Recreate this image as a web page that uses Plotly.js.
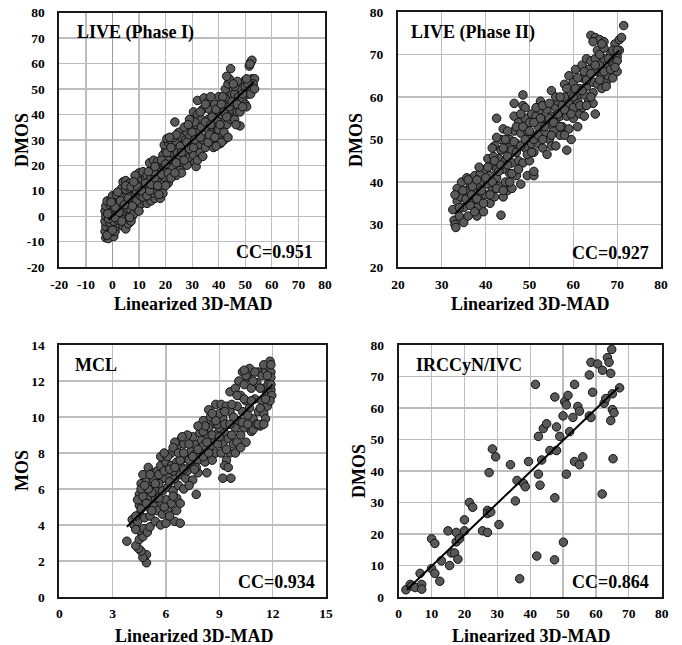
<!DOCTYPE html>
<html><head><meta charset="utf-8">
<script src="https://cdn.plot.ly/plotly-3.0.1.min.js"></script>
<style>html,body{margin:0;padding:0;background:#fff}</style>
</head><body><div id="chart" style="width:682px;height:645px"></div>
<script>
// ---- LIVE (Phase I) ----
const live1Points = [
[-2.5,-8.5],[-1.5,-8.8],[0.5,-8],[-2.8,-6],[-1,-6.5],[1,-6],[-2.5,-4],[-0.5,-4.5],[1.5,-4],[2.5,-3],[-2.8,-2],[-1,-2.5],[0.5,-2],[2,-1.5],[-2.5,0],[-1,0.5],[0.5,0],[2,0.5],[3,-1],[-2.8,2],[-1.5,2.5],[0,2],[1.5,2.5],[3,2],[-2.5,4],[-1,4.5],[0.5,4],[2,4.5],[-2,6],[-0.5,6.5],[1,6],[2.5,7],[0,8],[1.5,8.5],[-1.5,-1],[3.5,0.5],
[4,-4],[5,-5],[6,-3],[4.5,-1],[6,-1],[7.5,0],[4,2],[5.5,3],[7,2.5],[8,1],[3.5,5],[5,6],[6.5,5],[8,5],[4,8],[5.5,9],[7,8],[8.5,8],[3.5,11],[5,10.5],[6.5,11],[8,11],[4,13.5],[5,14],[6.5,13],[3,3],[7,-2],
[9,3],[10,4],[11,5],[12,6],[13,5],[9,6],[10.5,8],[12,9],[13.5,8],[9,10],[10.5,11],[12,12],[13.5,11],[9.5,13.5],[11,15],[12.5,15],[10,17],[11.5,17.5],[13,16],[14,14],[8.5,16],
[14.5,6],[16,7],[18,7],[15,9],[16.5,10],[18,11],[19,9],[15,12],[16.5,13.5],[18,14],[19.5,13],[14.5,15],[16,17],[17.5,17],[19,16],[20,15],[15,19],[16.5,20],[18,19],[19.5,19],[14,21],[15.5,22],[17,21.5],[19,21],[20.5,18],[21,13],[20,12],
[19,24],[20,26],[19.5,28],[21,29],[20.5,30.5],[22,30],[22,24],[23,22],[21.5,20],[23,27],[24,29.5],[24.5,25],[25,21],[25.5,18],[24,16],[26,17],[23.5,37],[25,33],[26,31],[26.5,28],[25.5,23],[22.5,19],[21,22],
[27,25],[27.5,30],[28,33],[28.5,27],[29,23],[29.5,35],[30,29],[30.5,24],[31,21],[31.5,19.5],[32,22],[30,38],[30.5,41],[31,32],[31.5,36],[32,40],[32,45.5],[29,31],[28,20],[32.5,28],[32.5,33],[27,35],
[33,25],[34,23.5],[34,30],[34.5,35],[33.5,38],[34,42],[34.5,46.5],[35,27],[35.5,31],[36,34],[36,38],[36.5,42],[36,45],[37,29],[37.5,33],[38,36],[38,40],[38.5,44],[39,30],[39.5,34],[39.5,38],[40,42],[40,47],[38,27],[37,47],
[40.5,28.5],[41,31],[42,30],[41.5,35],[42.5,38],[43,36],[41,40],[42,43],[43,44],[44,40],[44.5,38],[45,42],[43,47],[44,46],[45.5,45],[41.5,47],[42.5,50],[43.5,52],[44,54],[43,55],[44.5,58],[45,48],[46,48],[46.5,44],[46,38],[47,41],
[48,35.5],[47.5,47],[48,44],[49,46],[49.5,53],[50,44],[50.5,43],[51,48],[51.5,59],[52,60.5],[52.5,61.3],[51.8,59.8],[52.5,54],[53.5,54],[53,52],[52,48],[53.5,50],[48.5,50],[50,51],
[-2,-7.5],[0,-5.5],[-1.8,1],[1,-0.5],[2.5,1.5],[1,3.5],[3.5,-2],[-0.5,5.5],[2,9.5],[3,6],[4.5,4.5],[6,7],[7.5,4],[6.5,-0.5],[5,12],[7,11.5],[9.5,11.5],[8,13.5],[10,2],[11.5,7.5],[11,10],[12.5,13],[13,8],[14,10],[14.5,12.5],[16,15],[17,12],[17.5,8.5],[18.5,16.5],[15.5,17.5],[13.5,17.5],[16,19.5],[18.5,22],[20,20.5],[21,17],[22,15],[20.5,25],[22,27],[23,31],[24,32],[21.5,31],[25.5,27.5],[24,21],[23.5,17],[26,25],[27,22],[28,29],[29,26.5],[30,33],[30.5,27],[31,37],[29,38],[28.5,36],[31,30],[33,31],[33.5,35],[33,41],[35,44],[35,37],[36,29],[37,36],[37.5,39],[36.5,32],[38.5,31],[39,42],[40,34],[40.5,36],[41,44],[42,41],[43,39],[44,43],[45,45],[46,51],[47,53],[45.5,52],[47,44],[49,48],[48,41],[46.5,36],[51,52],[50.5,54],[49,43],[42,33],[43.5,31],[41,29],[39,27.5]
];
const live1FitX = [-1.5, 53.3];
const live1FitY = [-1.5, 52.9];
const live1TickVals = [-20, -10, 0, 10, 20, 30, 40, 50, 60, 70, 80];
const live1TickText = ['-20', '-10', '0', '10', '20', '30', '40', '50', '60', '70', '80'];

// ---- LIVE (Phase II) ----
const live2Points = [
[32.5,33.5],[32.8,31],[33,30],[33.2,29.3],[33.5,35.5],[33.5,38.5],[34,32],[34.3,36.5],[34.5,40],[35,30.5],[35,34],[35.5,38],[35.7,41],[36,32],[36,36],[36.5,39.5],
[37,35],[37.5,37.5],[37.5,41.5],[38,32],[38,34],[38.5,39],[38.8,42],[39,36.5],[39.5,33],[39.5,40],[40,37],[40,43],[40.5,45.5],[40.5,39.5],[41,35],[41,41.5],[37,39],[36.5,34.5],[39,38],
[41.5,44],[41.5,38],[42,36.5],[42,48.5],[42.5,55],[42.5,41],[43,45.5],[43,39],[43.5,32.2],[43.5,47.5],[43.5,50],[44,36.5],[44,43],[44,52.5],[44.5,40],[44.5,45],[45,48],[45,38],[45.5,42],[45.5,50],[46,44.5],[46,47.5],[46,38.5],[42.5,43],[41.8,46],
[46.5,55.5],[46.5,58.5],[46.5,52],[47,41.5],[47,49],[47.5,45],[47.5,54],[48,39.5],[48,51.5],[48.5,44.5],[48.5,60.5],[48.5,58],[49,57.5],[49,48],[49,55],[49.5,41.5],[49.5,52],[50,45],[50,50],[50,54],[50.5,49],[50.5,56],[51,41.5],[51,42.5],[51,47],
[51.5,55.5],[51.5,51],[52,49],[52,53],[52.5,57],[52.5,59],[53,48],[53,55],[53.5,51.5],[54,46.5],[54,57],[54,53.5],[54.5,50],[55,61.5],[55,55.5],[55,48.5],[55.5,52],[56,57.5],[56,54],[56,48.5],[56.5,59],[57,51],[57,55.5],
[57.5,58],[57.5,53],[58,60],[58,63],[58.5,47.5],[58.5,55.5],[59,52.5],[59,58.5],[59,65],[59.5,50],[59.5,61],[60,55],[60,57.5],[60,63.5],[60.5,66.5],[61,59],[61,60.5],[61.5,62],[61.5,56],[62,64.5],[62,67.5],[62,57.5],[62.5,55.5],[62.5,60.5],[63,69],[63,62.5],[61,53],
[63.5,59],[63.5,64],[63.5,66.5],[64,68.5],[64,74.5],[64.5,61],[64.5,63.5],[64.5,58.5],[65,56],[65,66],[65,69],[65,74],[65.5,71],[65.5,63],[66,73.5],[66,67.5],[66.5,62],[66.5,65],[67,73],[67,69],[67.5,63.5],[68,67],[68,65],[68.5,70],[69,64.5],[69,68],[69.5,72.5],[69.5,70.5],[70,66],[70,69.5],[70.5,71],[70.5,73.5],[71,74],[71.5,76.8],[70,68.5],[67.5,62.5],
[33,37],[34,34],[34.8,38],[35.5,36],[36,40.5],[36.8,37],[37.5,33],[38,36],[38,40.5],[38.5,43.5],[39.5,35],[40,41],[40.5,43.5],[41,37],[41.5,40],[41.5,48],[42,45],[42.5,38.5],[42.5,50.5],[43,42.5],[43.5,44],[44,38],[44,48],[44.5,50],[45,44],[45,46],[45,52],[45.5,40],[46,42],[46.5,49.5],[47,47],[47,53],[47.5,43],[48,48.5],[48,56],[48.5,53],[49,50],[49.5,46.5],[50,52],[50.5,47],[51,50],[51,54],[51.5,57.5],[52,51],[52.5,55],[53,50],[53,58],[53.5,53],[54.5,55],[54.5,58.5],[55,51],[55.5,54],[56,60],[56.5,56],[57,53],[57,60],[58,57],[58,51],[58.5,62],[59.5,56],[60,60],[60.5,62],[61,64.5],[61.5,58],[62,61.5],[62.5,66],[63,58],[63,64],[64,65.5],[64,60],[65,67.5],[66,64],[66,70],[67,66],[67,71.5],[68,69],[68.5,66.5],[69,71],[69.5,67],[70,71],[64.5,73],[66.5,72.5]
];
const live2FitX = [33, 70.5];
const live2FitY = [32.5, 71];

// ---- MCL ----
const mclPoints = [
[3.8,3.1],[4.9,1.9],[4.9,2.35],[4.7,2.2],[4.6,2.55],[4.45,2.7],[4.3,2.85],[4.5,3.2],[4.7,3.35],[4.5,3.7],[4.75,3.8],[4.95,3.6],[4.1,4.3],[4.2,4.0],[4.4,4.2],[4.3,3.75],[5.1,3.9],
[4.5,4.6],[4.8,4.4],[5.1,4.5],[5.4,4.2],[4.5,5.1],[4.7,5.3],[5.0,5.0],[5.3,5.1],[5.5,4.8],[4.5,5.7],[4.8,5.9],[5.1,5.6],[5.4,5.5],[4.6,6.3],[4.9,6.5],[5.2,6.2],[5.5,6.0],[4.7,6.8],[5.0,7.2],[5.3,6.9],[5.5,7.0],[5.65,6.5],
[5.7,4.0],[6.0,4.1],[6.5,4.2],[6.8,4.1],[5.8,4.6],[6.1,4.8],[5.7,5.3],[6.0,5.4],[6.3,5.2],[6.6,5.5],[6.8,5.2],[5.8,5.9],[6.1,6.1],[6.4,5.9],[6.7,6.2],[5.9,6.6],[6.2,6.8],[6.5,6.6],[6.8,6.8],[5.7,7.3],[6.0,7.5],[6.3,7.3],[6.6,7.5],[6.9,7.2],[5.7,7.8],[6.0,7.9],[6.3,8.0],[6.6,8.3],[6.8,8.7],[6.5,8.6],[7.0,8.5],[7.0,6.0],[7.1,6.6],[7.2,7.8],
[7.2,7.0],[7.4,7.4],[7.5,6.5],[7.7,5.7],[7.8,6.9],[7.4,8.1],[7.6,8.5],[7.8,7.6],[8.0,8.2],[8.2,7.5],[8.3,6.9],[7.5,8.9],[7.9,9.1],[8.1,9.8],[8.3,9.0],[8.5,8.4],[8.6,7.6],[8.8,8.0],[8.4,10.4],[8.6,9.6],[8.8,10.7],[8.9,9.1],[8.7,8.8],[8.0,8.7],[7.3,8.5],
[9.1,10.7],[9.4,10.6],[9.6,10.3],[9.2,9.9],[9.0,9.4],[9.3,9.1],[9.2,8.5],[9.5,8.8],[9.1,8.0],[9.6,8.0],[9.4,7.6],[9.3,7.3],[9.2,6.6],[9.65,6.6],[9.5,7.2],[9.8,8.5],[10.0,8.6],[10.2,9.0],[9.9,9.4],[10.1,9.8],[9.8,10.0],[10.3,10.3],[10.0,10.6],[9.6,11.4],[9.9,11.6],[10.2,11.2],[10.1,12.0],[10.3,12.5],[10.4,11.8],[10.5,10.9],[10.4,9.4],[10.5,8.6],
[10.7,12.7],[10.6,12.2],[10.8,11.6],[10.7,10.5],[10.9,9.9],[10.8,9.2],[10.9,9.3],[11.1,9.6],[11.2,10.3],[11.0,11.0],[11.1,11.9],[11.2,12.5],[11.4,12.3],[11.5,11.6],[11.4,10.9],[11.5,10.2],[11.3,9.5],[11.6,9.9],[11.7,10.6],[11.7,11.3],[11.8,12.0],[11.6,12.6],[11.8,12.8],[11.85,13.1],[11.9,12.5],[11.9,11.5],[11.95,11.2],[11.9,12.2],[11.75,11.8],[11.85,10.9],
[5.2,5.8],[5.6,6.3],[6.2,6.4],[6.4,7.0],[7.0,7.7],[7.6,7.9],[8.1,8.4],[8.4,9.4],[8.9,9.6],[7.7,7.2],[8.5,10.0],[9.0,10.2],
[4.3,4.5],[4.6,4.9],[4.4,5.4],[4.7,5.6],[4.9,5.2],[5.2,4.8],[4.6,6.0],[5.0,6.0],[5.3,6.5],[4.8,6.2],[5.1,6.8],[5.4,6.3],[5.6,5.5],[5.9,5.0],[6.2,4.5],[6.4,5.6],[6.6,4.8],[5.6,6.8],[5.9,7.0],[6.2,7.1],[6.5,7.2],[6.8,7.6],[6.1,7.8],[6.4,8.3],[6.7,8.0],[7.0,8.0],[7.0,7.1],[7.3,7.6],[7.6,7.1],[7.3,6.2],[7.5,7.8],[7.8,8.2],[8.1,7.8],[8.3,8.6],[8.1,9.2],[8.4,8.0],[8.6,9.0],[8.9,8.5],[9.0,8.9],[8.8,9.8],[9.3,9.6],[9.6,9.6],[9.7,9.0],[9.4,8.2],[9.9,8.0],[10.2,8.3],[10.3,9.7],[10.6,9.6],[10.6,10.1],[10.4,11.0],[10.8,10.9],[10.9,12.0],[11.0,12.5],[11.3,11.6],[11.3,10.5],[11.6,11.0],[11.5,12.9],[11.7,12.3],[11.9,12.9],[11.9,11.8],[11.2,9.6],[11.5,9.6],[10.0,11.2],[9.7,10.7],[9.3,10.3],[8.6,10.2],[8.2,9.5],[7.8,9.5],[7.2,9.0],[5.9,8.0],[6.9,8.9],[10.5,12.3],[10.4,12.6]
];
const mclFitX = [3.8, 12.0];
const mclFitY = [3.9, 11.8];

// ---- IRCCyN/IVC ----
const ivcPoints = [
[2.2,2.3],[3.5,4],[4,3.5],[5,3],[6.5,7.5],[7,4],[7,2.5],[10,18.5],[10,9],[11,17],[11,7.5],[12.5,5],[13,11.5],[15,21],[15.5,10],[16,14],[17,14],[17.5,17.5],[17.5,20.5],[18,12],[18.5,18.5],[20,21],[20,24.5],[21.5,30],[22.5,28.5],[25.5,21],[27,20.5],[27,27.5],[27,26.5],[27.5,39.5],[28,27],[28.5,47],[29.5,44.5],[30.5,23],[34,42],[35.5,30.5],[36,37],[36.8,5.8],[38,36],[38.5,35],[39.5,43],[41.6,67.5],[42,13],[42.5,51],[42.5,39],[43,35.5],[43.5,43.5],[44,53.5],[45,55],[46,46.5],[47.5,63.5],[47.5,31.5],[47.4,11.8],[48,54],[48,46.5],[49,51],[50,57.5],[50.1,17.4],[50.5,62],[51,61],[51,39],[51.5,64],[52,52.5],[53,57],[53.5,67.5],[53.5,43],[54.5,60.5],[55,59],[55,42],[56,44.5],[58,70.5],[58.5,74.5],[58,57.5],[58.5,57],[59,65],[60.5,74],[62,72],[61.9,32.7],[62.5,61.5],[63,63],[63.5,76],[64,74.5],[64.8,78.6],[64.5,71],[64.5,56],[65,59.5],[65,64.5],[65.2,43.9],[65.5,58.5],[67.2,66.4]
];
const ivcFitX = [2.5, 66.8];
const ivcFitY = [2.3, 66.5];

const panelLabels = ['LIVE (Phase I)', 'LIVE (Phase II)', 'MCL', 'IRCCyN/IVC'];
const ccLabels = ['CC=0.951', 'CC=0.927', 'CC=0.934', 'CC=0.864'];
const yTitles = ['DMOS', 'DMOS', 'MOS', 'DMOS'];
const xTitle = 'Linearized 3D-MAD';

const FONT = 'Liberation Serif, Times New Roman, serif';
const markerStyle = {size: 8.5, color: '#595959', line: {color: '#111', width: 1}};

function scat(pts, xa, ya) {
  return {type: 'scatter', mode: 'markers', x: pts.map(p => p[0]), y: pts.map(p => p[1]),
    xaxis: xa, yaxis: ya, marker: markerStyle, hoverinfo: 'skip'};
}
function fit(fx, fy, xa, ya) {
  return {type: 'scatter', mode: 'lines', x: fx, y: fy, xaxis: xa, yaxis: ya,
    line: {color: '#000', width: 2}, hoverinfo: 'skip'};
}

const data = [
  scat(live1Points, 'x', 'y'), fit(live1FitX, live1FitY, 'x', 'y'),
  scat(live2Points, 'x2', 'y2'), fit(live2FitX, live2FitY, 'x2', 'y2'),
  scat(mclPoints, 'x3', 'y3'), fit(mclFitX, mclFitY, 'x3', 'y3'),
  scat(ivcPoints, 'x4', 'y4'), fit(ivcFitX, ivcFitY, 'x4', 'y4')
];

const tickFont = {family: FONT, size: 13.5, color: '#000', weight: 'bold'};
function ax(extra, standoff) {
  return Object.assign({
    showline: true, mirror: true, linecolor: '#1a1a1a', linewidth: 2,
    showgrid: true, gridcolor: '#bdbdbd', gridwidth: 1.3, zeroline: false,
    ticks: '', ticklabelstandoff: standoff, tickfont: tickFont, fixedrange: true
  }, extra);
}

const layout = {
  width: 682, height: 645, margin: {l: 0, r: 0, t: 0, b: 0},
  paper_bgcolor: '#fff', plot_bgcolor: '#fff', showlegend: false,
  font: {family: FONT, color: '#000', weight: 'bold'},
  xaxis: ax({domain: [0.087, 0.4765], range: [-20, 80], tickmode: 'array', tickvals: live1TickVals, ticktext: live1TickText, anchor: 'y',
             zeroline: true, zerolinecolor: '#9a9a9a', zerolinewidth: 1.6}, 4),
  yaxis: ax({domain: [0.586, 0.9803], range: [-20, 80], tickmode: 'array', tickvals: live1TickVals, ticktext: live1TickText, anchor: 'x'}, 10),
  xaxis2: ax({domain: [0.5836, 0.9692], range: [20, 80], dtick: 10, anchor: 'y2'}, 4),
  yaxis2: ax({domain: [0.586, 0.9814], range: [20, 80], dtick: 10, anchor: 'x2'}, 10),
  xaxis3: ax({domain: [0.087, 0.478], range: [0, 15], dtick: 3, anchor: 'y3'}, 3),
  yaxis3: ax({domain: [0.0744, 0.4651], range: [0, 14], dtick: 2, anchor: 'x3'}, 10),
  xaxis4: ax({domain: [0.5846, 0.9702], range: [0, 80], dtick: 10, anchor: 'y4'}, 3),
  yaxis4: ax({domain: [0.0744, 0.4651], range: [0, 80], dtick: 10, anchor: 'x4'}, 10),
  annotations: []
};

const titleFont = {family: FONT, size: 18, color: '#000', weight: 'bold'};
const labelPos = [[75, 33], [409, 32], [73, 365], [414, 365]];
const ccPos = [[234, 252], [570, 253], [236, 582], [570, 582]];
const xTitlePos = [[193, 304], [530, 304], [194, 636], [531, 636]];
const yTitlePos = [[22, 140], [356, 140], [22, 471], [359, 471]];
function P(x, y) { return {xref: 'paper', yref: 'paper', x: x / 682, y: 1 - y / 645, showarrow: false}; }
for (let i = 0; i < 4; i++) {
  layout.annotations.push(Object.assign(P(labelPos[i][0], labelPos[i][1]),
    {xanchor: 'left', yanchor: 'middle', text: panelLabels[i], font: titleFont}));
  layout.annotations.push(Object.assign(P(ccPos[i][0], ccPos[i][1]),
    {xanchor: 'left', yanchor: 'middle', text: ccLabels[i], font: titleFont}));
  layout.annotations.push(Object.assign(P(xTitlePos[i][0], xTitlePos[i][1]),
    {xanchor: 'center', yanchor: 'middle', borderpad: 0, text: xTitle, font: titleFont}));
  layout.annotations.push(Object.assign(P(yTitlePos[i][0], yTitlePos[i][1]),
    {xanchor: 'center', yanchor: 'middle', borderpad: 0, textangle: -90, text: yTitles[i], font: titleFont}));
}

Plotly.newPlot('chart', data, layout, {displayModeBar: false, staticPlot: true});
</script>
</body></html>
